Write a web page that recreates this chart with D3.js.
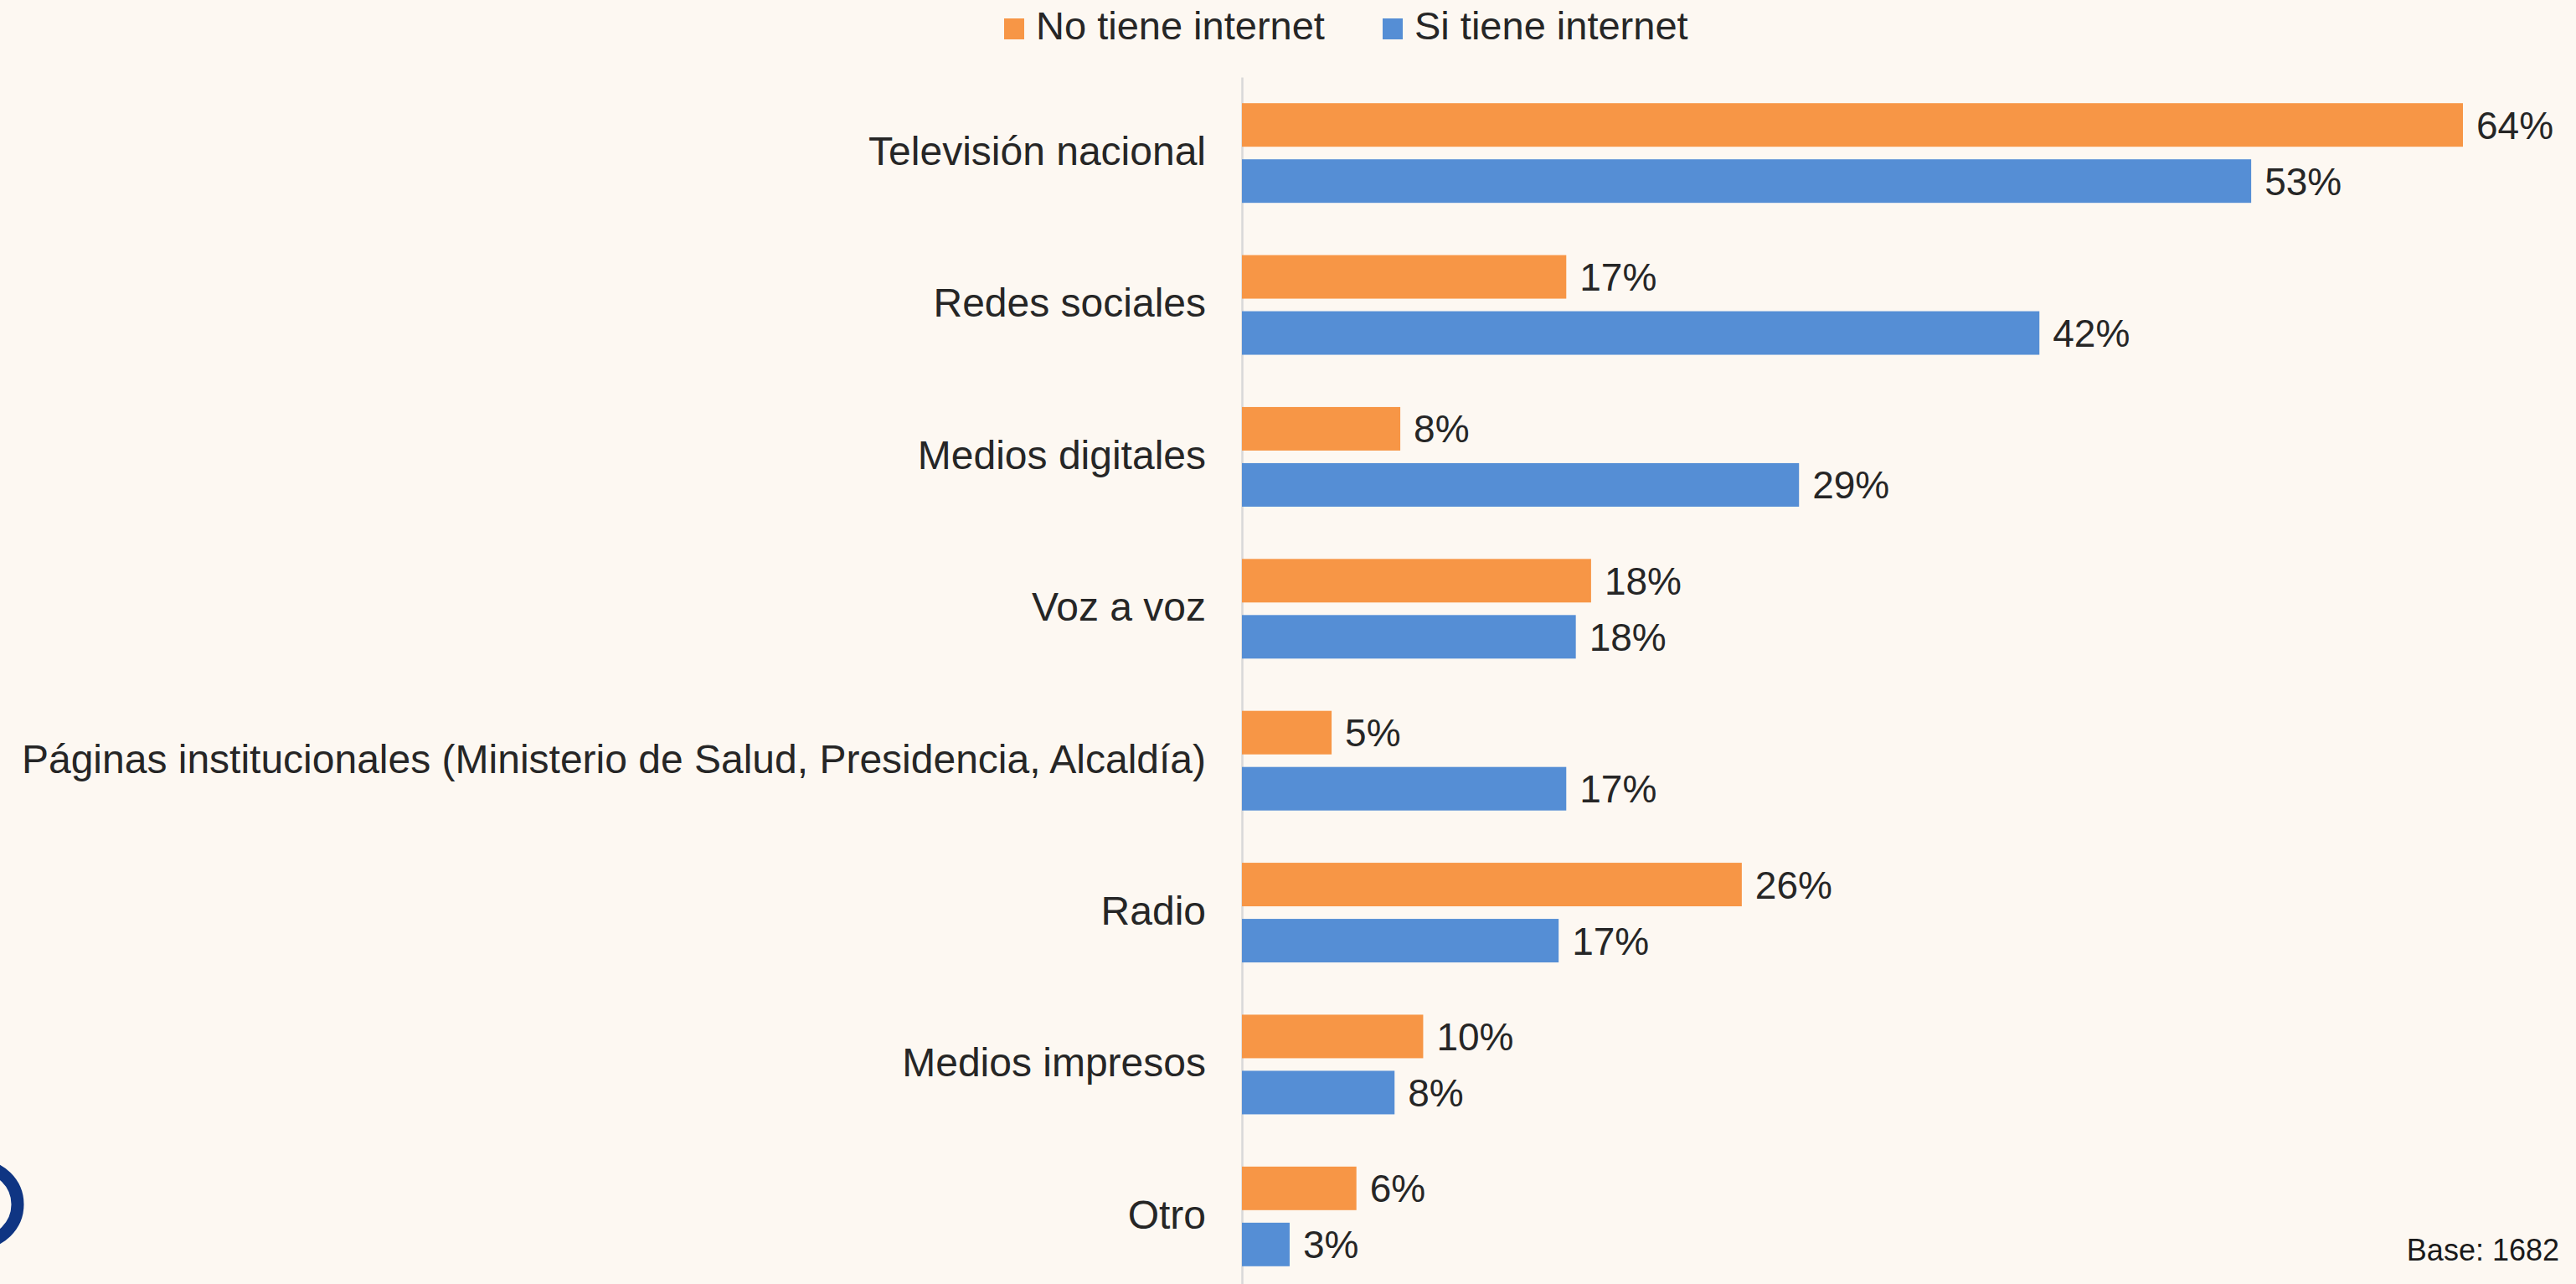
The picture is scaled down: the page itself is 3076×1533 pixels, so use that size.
<!DOCTYPE html>
<html>
<head>
<meta charset="utf-8">
<script src="https://cdn.jsdelivr.net/npm/d3@7"></script>
<style>
    html, body { margin: 0; padding: 0; background: #fdf8f2; }
    svg { display: block; font-family: "Liberation Sans", Arial, sans-serif; }
</style>
</head>
<body>
<div id="chart"></div>
<script>
const categories = [
    "Televisión nacional",
    "Redes sociales",
    "Medios digitales",
    "Voz a voz",
    "Páginas institucionales (Ministerio de Salud, Presidencia, Alcaldía)",
    "Radio",
    "Medios impresos",
    "Otro"
];
const seriesNames = ["No tiene internet", "Si tiene internet"];
const noInternet = [64, 17, 8.3, 18.3, 4.7, 26.2, 9.5, 6];
const siInternet = [52.9, 41.8, 29.2, 17.5, 17, 16.6, 8, 2.5];
const colors = ["#f79646", "#558ed5"];
const baseNote = "Base: 1682";

const width = 3076;
const height = 1533;

const rows = categories.map((c, i) => ({
    name: c,
    values: [
        { key: seriesNames[0], value: noInternet[i] },
        { key: seriesNames[1], value: siInternet[i] }
    ]
}));

const svg = d3.select("#chart")
    .append("svg")
    .attr("width", width)
    .attr("height", height);

svg.append("rect")
    .attr("width", width)
    .attr("height", height)
    .attr("fill", "#fdf8f2");

const x = d3.scaleLinear().domain([0, 64]).range([1483, 2941]);
const y = d3.scaleBand()
    .domain(categories)
    .range([92, 1543])
    .paddingInner(0.344)
    .paddingOuter(0.172);
const ySub = d3.scaleBand()
    .domain(seriesNames)
    .range([0, y.bandwidth()])
    .paddingInner(0.224);
const color = d3.scaleOrdinal(seriesNames, colors);

// category axis (no ticks, just the light line + labels)
const axis = svg.append("g")
    .attr("transform", `translate(${x(0)},0)`)
    .call(d3.axisLeft(y).tickSize(0).tickPadding(43));

axis.select(".domain")
    .attr("stroke", "#d9d9d9")
    .attr("stroke-width", 2.5);

axis.selectAll(".tick text")
    .attr("fill", "#262626")
    .attr("dy", "0.3em")
    .style("font-size", "48px")
    .style("font-family", "'Liberation Sans', Arial, sans-serif");

const group = svg.append("g")
    .selectAll("g")
    .data(rows)
    .join("g")
    .attr("transform", d => `translate(0,${y(d.name)})`);

group.selectAll("rect")
    .data(d => d.values)
    .join("rect")
    .attr("x", x(0))
    .attr("y", d => ySub(d.key))
    .attr("width", d => x(d.value) - x(0))
    .attr("height", ySub.bandwidth())
    .attr("fill", d => color(d.key));

group.selectAll("text")
    .data(d => d.values)
    .join("text")
    .attr("x", d => x(d.value) + 16)
    .attr("y", d => ySub(d.key) + ySub.bandwidth() / 2)
    .attr("dy", "0.36em")
    .attr("fill", "#262626")
    .style("font-size", "46px")
    .text(d => Math.round(d.value) + "%");

// legend
const legendX = [1199, 1651];
const legend = svg.append("g")
    .selectAll("g")
    .data(seriesNames)
    .join("g")
    .attr("transform", (d, i) => `translate(${legendX[i]},22)`);

legend.append("rect")
    .attr("width", 24)
    .attr("height", 25)
    .attr("fill", d => color(d));

legend.append("text")
    .attr("x", 38)
    .attr("y", 25)
    .attr("fill", "#262626")
    .style("font-size", "47px")
    .text(d => d);

// base note
svg.append("text")
    .attr("x", 3056)
    .attr("y", 1505)
    .attr("text-anchor", "end")
    .attr("fill", "#1a1a1a")
    .style("font-size", "36px")
    .text(baseNote);

// cut-off logo at bottom left
svg.append("ellipse")
    .attr("cx", -26)
    .attr("cy", 1438)
    .attr("rx", 47)
    .attr("ry", 46)
    .attr("fill", "none")
    .attr("stroke", "#0f3583")
    .attr("stroke-width", 15);
</script>
</body>
</html>
